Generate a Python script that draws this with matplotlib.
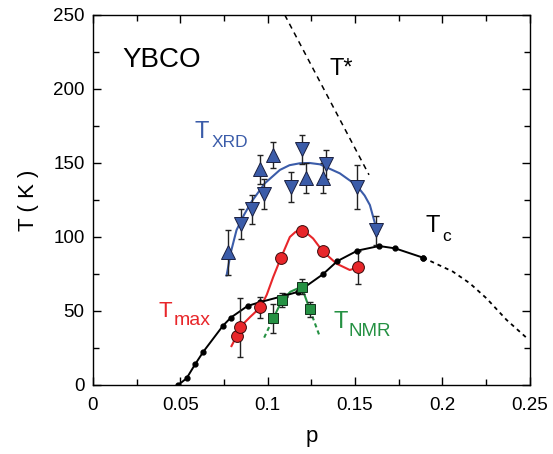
import matplotlib
matplotlib.use("Agg")
import matplotlib.pyplot as plt
from matplotlib.ticker import MultipleLocator

plt.rcParams["font.family"] = ["Liberation Sans", "DejaVu Sans"]

BLUE = "#3b5ca9"
RED = "#e8262a"
GREEN = "#259143"

# ---- Tc (black dots + line, dotted extrapolation) ----
tc_p = [0.0488, 0.0536, 0.0585, 0.0632, 0.0744, 0.0789, 0.0885, 0.0957, 0.1098,
        0.1175, 0.1316, 0.1399, 0.1514, 0.1638, 0.173, 0.189]
tc_T = [0, 4.5, 14, 22.5, 40, 45.5, 53.4, 56, 60.4, 63, 74.8, 83.7, 90.8, 93.9, 92.3, 86]
tc_ext_p = [0.189, 0.206, 0.2157, 0.2252, 0.2367, 0.249]
tc_ext_T = [86, 76.6, 68.7, 58.6, 44, 31]

# ---- T* ----
tstar_p = [0.1098, 0.158]
tstar_T = [250, 142]

# ---- T_XRD ----
xrd_up_p = [0.0771, 0.0955, 0.1032, 0.1222, 0.1314]
xrd_up_T = [89.6, 145.7, 155.4, 140, 140]
xrd_up_err = [15, 10, 9, 10, 10]
xrd_dn_p = [0.0847, 0.0912, 0.098, 0.1133, 0.1194, 0.1333, 0.1514, 0.1622]
xrd_dn_T = [108.6, 118.7, 128.9, 133.6, 159.2, 149, 133.6, 104.5]
xrd_dn_err = [10, 10, 10, 10, 10, 10, 15, 10]
xrd_fit_p = [0.0765, 0.079, 0.0822, 0.0865, 0.0908, 0.0984, 0.107, 0.1125, 0.1184,
             0.124, 0.1299, 0.1413, 0.1508, 0.1555, 0.1585, 0.1619, 0.163]
xrd_fit_T = [74, 90, 104.7, 115, 123.9, 136.3, 145.3, 148.5, 149.8, 150, 149.1,
             143, 135, 128, 121.6, 107, 102]

# ---- T_max ----
tmax_p = [0.0822, 0.0841, 0.0959, 0.1075, 0.1194, 0.1314, 0.1518]
tmax_T = [33, 39, 52.5, 85.6, 104.3, 90.5, 79.5]
tmax_err = [0, 20, 7, 0, 0, 0, 11]
tmax_fit_p = [0.0793, 0.0822, 0.0841, 0.09, 0.0959, 0.0995, 0.1032, 0.1075, 0.1127,
              0.1160, 0.1194, 0.1225, 0.126, 0.1314, 0.1394, 0.147, 0.1518]
tmax_fit_T = [26.3, 33, 39, 46, 52.5, 61, 73, 85.6, 100, 103.5, 104.3, 102.5, 99,
              90.5, 82, 77.7, 79.5]

# ---- T_NMR ----
nmr_p = [0.1032, 0.1083, 0.1194, 0.1241]
nmr_T = [45, 57.4, 66.4, 51.1]
nmr_err = [10, 5, 5, 5]
nmr_fit_p = [0.1032, 0.1083, 0.113, 0.1194, 0.1241]
nmr_fit_T = [45, 57.4, 63, 66.4, 51.1]
nmr_left_p = [0.098, 0.1032]
nmr_left_T = [32, 45]
nmr_right_p = [0.1241, 0.1295]
nmr_right_T = [51.1, 33.8]

fig = plt.figure(figsize=(5.53, 4.54), dpi=100)
ax = fig.add_axes([0.168, 0.152, 0.790, 0.815])

# lines
ax.plot(tstar_p, tstar_T, color="black", lw=1.1, ls=(0, (3.5, 3)))
ax.plot(tc_p, tc_T, color="black", lw=1.4, zorder=3)
ax.plot(tc_ext_p, tc_ext_T, color="black", lw=1.3, ls=(0, (2.2, 2.2)))
ax.plot(xrd_fit_p, xrd_fit_T, color=BLUE, lw=1.5, zorder=2)
ax.plot(tmax_fit_p, tmax_fit_T, color=RED, lw=1.5, zorder=2)
ax.plot(nmr_fit_p, nmr_fit_T, color=GREEN, lw=1.5, zorder=2)
ax.plot(nmr_left_p, nmr_left_T, color=GREEN, lw=1.5, ls=(0, (2, 1.6)), zorder=2)
ax.plot(nmr_right_p, nmr_right_T, color=GREEN, lw=1.5, ls=(0, (2, 1.6)), zorder=2)

# error bars
eb = dict(fmt="none", ecolor="#222222", elinewidth=1.0, capsize=2.5, capthick=1.0, zorder=4)
ax.errorbar(xrd_up_p, xrd_up_T, yerr=xrd_up_err, **eb)
ax.errorbar(xrd_dn_p, xrd_dn_T, yerr=xrd_dn_err, **eb)
ax.errorbar([p for p, e in zip(tmax_p, tmax_err) if e > 0],
            [t for t, e in zip(tmax_T, tmax_err) if e > 0],
            yerr=[e for e in tmax_err if e > 0], **eb)
ax.errorbar(nmr_p, nmr_T, yerr=nmr_err, **eb)

# markers
ax.plot(tc_p, tc_T, "o", color="black", ms=3.5, zorder=5)
ax.plot(tc_ext_p[:1], tc_ext_T[:1], "o", color="black", ms=3.5, zorder=5)
ax.plot(xrd_up_p, xrd_up_T, "^", ms=10, mfc=BLUE, mec="#1a2040", mew=0.7, ls="none", zorder=6)
ax.plot(xrd_dn_p, xrd_dn_T, "v", ms=10, mfc=BLUE, mec="#1a2040", mew=0.7, ls="none", zorder=6)
ax.plot(tmax_p, tmax_T, "o", ms=8.5, mfc=RED, mec="#3a0a0a", mew=0.7, ls="none", zorder=6)
ax.plot(nmr_p, nmr_T, "s", ms=7.5, mfc=GREEN, mec="#10301a", mew=0.7, ls="none", zorder=6)

# labels
ax.text(0.0166, 215, "YBCO", fontsize=20, va="baseline")
ax.text(0.1356, 209.5, "T*", fontsize=17, va="baseline")
ax.text(0.0584, 166.9, "T", fontsize=17, color=BLUE, va="baseline")
ax.text(0.0679, 161, "XRD", fontsize=12.5, color=BLUE, va="baseline")
ax.text(0.1905, 103.4, "T", fontsize=17, va="baseline")
ax.text(0.2000, 97.3, "c", fontsize=12.5, va="baseline")
ax.text(0.0374, 46.1, "T", fontsize=16, color=RED, va="baseline")
ax.text(0.0462, 40.5, "max", fontsize=14, color=RED, va="baseline")
ax.text(0.1379, 38.3, "T", fontsize=17, color=GREEN, va="baseline")
ax.text(0.1465, 33.1, "NMR", fontsize=13.5, color=GREEN, va="baseline")

ax.set_xlim(0, 0.25)
ax.set_ylim(0, 250)
ax.xaxis.set_major_locator(MultipleLocator(0.05))
ax.xaxis.set_minor_locator(MultipleLocator(0.025))
ax.yaxis.set_major_locator(MultipleLocator(50))
ax.yaxis.set_minor_locator(MultipleLocator(25))
ax.set_xticks([0, 0.05, 0.1, 0.15, 0.2, 0.25])
ax.set_xticklabels(["0", "0.05", "0.1", "0.15", "0.2", "0.25"])
ax.tick_params(which="both", direction="in", top=True, right=True, labelsize=13.5, width=1.0)
ax.tick_params(which="major", length=6)
ax.tick_params(which="minor", length=4)
ax.tick_params(axis="x", pad=9)
ax.tick_params(axis="y", pad=6)
for s in ax.spines.values():
    s.set_linewidth(1.0)
ax.set_xlabel("p", fontsize=16, labelpad=8)
ax.set_ylabel("T ( K )", fontsize=16, labelpad=10)

fig.savefig("out.png", dpi=100)
